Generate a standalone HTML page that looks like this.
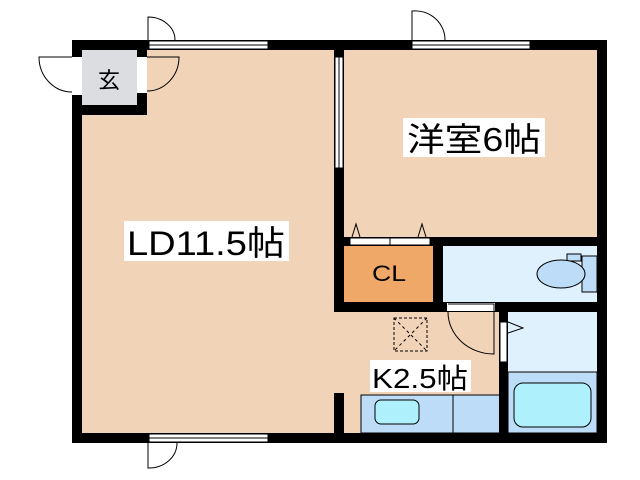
<!DOCTYPE html>
<html><head><meta charset="utf-8"><style>
html,body{margin:0;padding:0;background:#fff;}
svg{display:block;}
text{font-family:"Liberation Sans","Noto Sans CJK JP",sans-serif;fill:#000;}
</style></head><body>
<svg width="640" height="480" viewBox="0 0 640 480" xmlns="http://www.w3.org/2000/svg">
<rect x="72" y="40" width="535" height="403" fill="#f1d3b8"/>
<rect x="82" y="50" width="55" height="55" fill="#dcdde0"/>
<rect x="343" y="246" width="90" height="56" fill="#f0a868"/>
<rect x="443" y="246" width="154" height="56" fill="#dff1fd"/>
<rect x="508" y="312" width="89" height="121" fill="#dff1fd"/>
<rect x="508" y="372" width="89" height="61" fill="#bcdcf8" stroke="#000" stroke-width="1"/>
<rect x="514" y="383" width="77" height="44" rx="9" fill="#aef0fc" stroke="#000" stroke-width="1"/>
<rect x="361" y="395" width="139" height="38" fill="#bcdcf8" stroke="#000" stroke-width="1"/>
<line x1="453" y1="395" x2="453" y2="433" stroke="#000"/>
<rect x="375" y="400" width="44" height="24" rx="6" fill="#aef0fc" stroke="#000"/>
<rect x="582" y="256" width="15" height="36" fill="#bcdcf8" stroke="#000"/>
<rect x="567" y="254" width="14" height="7" fill="#bcdcf8" stroke="#000"/>
<ellipse cx="561" cy="274" rx="24" ry="14" fill="#bcdcf8" stroke="#000"/>
<g fill="#000">
<rect x="72" y="40" width="535" height="10"/>
<rect x="72" y="433" width="535" height="10"/>
<rect x="72" y="40" width="10" height="403"/>
<rect x="597" y="40" width="10" height="403"/>
<rect x="137" y="40" width="10" height="75"/>
<rect x="72" y="105" width="75" height="10"/>
<rect x="334" y="40" width="10" height="272"/>
<rect x="334" y="237" width="273" height="9"/>
<rect x="433" y="237" width="10" height="75"/>
<rect x="334" y="302" width="273" height="10"/>
<rect x="499" y="302" width="9" height="131"/>
<rect x="334" y="393" width="10" height="50"/>
</g>
<g fill="#fff" stroke="#000" stroke-width="1">
<rect x="72" y="57" width="10" height="38" stroke="none"/>
<rect x="137" y="57" width="10" height="36" stroke="none"/>
<rect x="149" y="41" width="119" height="8"/>
<rect x="412" y="41" width="118" height="8"/>
<rect x="149" y="434" width="119" height="8"/>
<rect x="335" y="57" width="8" height="111"/>
<rect x="350" y="238" width="80" height="7"/>
<rect x="447" y="303" width="48" height="8" stroke="none"/>
<rect x="500" y="322" width="7" height="40"/>
</g>
<g stroke="#000" stroke-width="1" fill="none">
<line x1="149" y1="45" x2="268" y2="45"/>
<line x1="412" y1="45" x2="530" y2="45"/>
<line x1="149" y1="438" x2="268" y2="438"/>
<line x1="339" y1="57" x2="339" y2="168"/>
<line x1="390" y1="238" x2="390" y2="245"/>
<path d="M148 40 V17 A27 23 0 0 1 175 40"/>
<path d="M412 40 V11 A30 29 0 0 1 445 40"/>
<path d="M148 443 V468 A28 25 0 0 0 177 443"/>
<path d="M72 57 H39 A33 35 0 0 0 72 92"/>
<path d="M147 57 H179 A32 34 0 0 1 147 91"/>
<path d="M448 312 A46 42 0 0 0 494 354 V304 H448"/>
<path d="M508 322 L523 328 L508 333"/>
<path d="M352 237 L356 224 L360 237"/>
<path d="M418 237 L422 224 L426 237"/>
<rect x="394" y="318" width="33" height="33" stroke-dasharray="3,2"/>
<path d="M394 318 L427 351 M427 318 L394 351" stroke-dasharray="3,3"/>
</g>
<text x="109" y="88" font-size="22" text-anchor="middle">玄</text>
<rect x="124" y="221" width="165" height="40" fill="#fff"/>
<text x="206" y="255" font-size="34" text-anchor="middle" textLength="158" lengthAdjust="spacingAndGlyphs">LD11.5帖</text>
<rect x="403" y="118" width="142" height="39" fill="#fff"/>
<text x="474" y="151" font-size="33" text-anchor="middle" textLength="134" lengthAdjust="spacingAndGlyphs">洋室6帖</text>
<text x="389" y="281" font-size="22" text-anchor="middle" textLength="34" lengthAdjust="spacingAndGlyphs">CL</text>
<rect x="370" y="360" width="101" height="32" fill="#fff"/>
<text x="420" y="388" font-size="28" text-anchor="middle" textLength="96" lengthAdjust="spacingAndGlyphs">K2.5帖</text>
</svg>
</body></html>
